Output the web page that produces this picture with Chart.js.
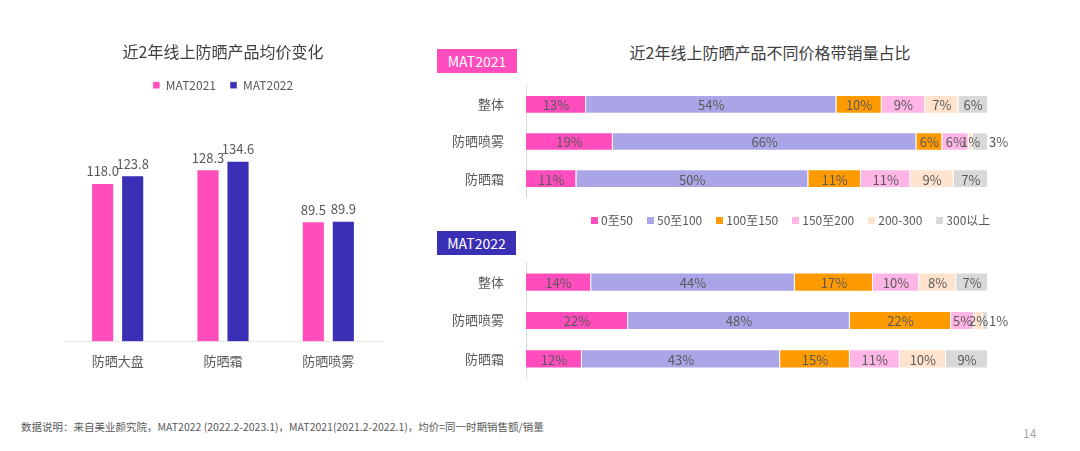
<!DOCTYPE html>
<html>
<head>
<meta charset="utf-8">
<script src="https://cdn.jsdelivr.net/npm/chart.js@4"></script>
<style>
    body { margin:0; background:#fff; font-family:"Noto Sans CJK SC","Noto Sans",sans-serif; }
    #page { position:relative; width:1080px; height:451px; overflow:hidden; background:#fff; }
    .box { position:absolute; }
    .badge { position:absolute; color:#fff; font-size:14px; text-align:center; line-height:24px; }
    #title2 { position:absolute; left:560px; top:40px; width:420px; text-align:center; font-size:16px; color:#404040; }
    #legend2 { position:absolute; left:591px; top:211px; font-size:12px; color:#595959; white-space:nowrap; }
    #legend2 span { display:inline-block; margin-right:14px; }
    #legend2 i { display:inline-block; width:7px; height:7px; margin-right:3px; vertical-align:1px; }
    #note { position:absolute; left:21px; top:419px; font-size:10.5px; color:#595959; }
    #pageNo { position:absolute; left:1023px; top:424px; font-size:12px; color:#a6a6a6; }
</style>
</head>
<body>
<div id="page">
    <div class="box" style="left:45px; top:30px; width:355px; height:360px;"><canvas id="avgChart"></canvas></div>

    <div id="title2">近2年线上防晒产品不同价格带销量占比</div>
    <div class="box" style="left:420px; top:64px; width:588px; height:155px;"><canvas id="shareChart2021"></canvas></div>
    <div class="box" style="left:420px; top:241px; width:588px; height:159px;"><canvas id="shareChart2022"></canvas></div>
    <div class="badge" style="left:437px; top:49px; width:80px; height:24px; background:#ff4dbd;">MAT2021</div>
    <div class="badge" style="left:437px; top:231px; width:79px; height:24px; background:#3b2fb5;">MAT2022</div>
    <div id="legend2"></div>

    <div id="note">数据说明：来自美业颜究院，MAT2022 (2022.2-2023.1)，MAT2021(2021.2-2022.1)，均价=同一时期销售额/销量</div>
    <div id="pageNo">14</div>
</div>

<script>
// DATA
const productCats = ["防晒大盘", "防晒霜", "防晒喷雾"];
const avg2021 = [118.0, 128.3, 89.5];
const avg2022 = [123.8, 134.6, 89.9];

const rowLabels = ["整体", "防晒喷雾", "防晒霜"];
const priceBands = ["0至50", "50至100", "100至150", "150至200", "200-300", "300以上"];
const bandColors = ["#ff4dbd", "#aaa5e6", "#ff9a00", "#ffb5e6", "#ffe3cc", "#d9d9d9"];

// share per row (整体, 防晒喷雾, 防晒霜), in price band order
const share2021 = [
    [13.0, 54.2, 9.8, 9.4, 7.2, 6.4],
    [18.8, 65.7, 5.6, 5.7, 0.9, 3.3],
    [10.9, 50.2, 11.4, 10.7, 9.4, 7.4]
];
const share2022 = [
    [14.1, 44.1, 16.9, 10.0, 8.0, 6.9],
    [22.1, 48.0, 21.9, 5.0, 1.9, 1.1],
    [12.1, 42.9, 15.1, 10.8, 10.0, 9.1]
];

const FONT = "'Noto Sans CJK SC', 'Noto Sans', sans-serif";
const TEXT = "#595959";

// value labels above the bars
const topLabels = {
    id: "topLabels",
    afterDatasetsDraw(chart) {
        let ctx = chart.ctx;
        ctx.save();
        ctx.font = "13px " + FONT;
        ctx.fillStyle = TEXT;
        ctx.textAlign = "center";
        ctx.textBaseline = "bottom";
        chart.data.datasets.forEach((ds, i) => {
            chart.getDatasetMeta(i).data.forEach((bar, j) => {
                ctx.fillText(ds.data[j].toFixed(1), bar.x, bar.y - 5);
            });
        });
        ctx.restore();
    }
};

// percent labels inside stacked segments
const segLabels = {
    id: "segLabels",
    afterDatasetsDraw(chart) {
        let ctx = chart.ctx;
        let last = chart.data.datasets.length - 1;
        ctx.save();
        ctx.font = "13px " + FONT;
        ctx.fillStyle = TEXT;
        ctx.textBaseline = "middle";
        chart.data.datasets.forEach((ds, i) => {
            chart.getDatasetMeta(i).data.forEach((bar, j) => {
                let v = ds.data[j];
                let text = Math.round(v) + "%";
                if (i === last && v < 5) {
                    // tiny last segment: label goes after the bar end
                    ctx.textAlign = "left";
                    ctx.fillText(text, bar.x + 1, bar.y + 1);
                } else {
                    ctx.textAlign = "center";
                    ctx.fillText(text, (bar.x + bar.base) / 2, bar.y + 1);
                }
            });
        });
        ctx.restore();
    }
};

// LEFT: average price
new Chart(document.getElementById("avgChart"), {
    type: "bar",
    data: {
        labels: productCats,
        datasets: [
            { label: "MAT2021", data: avg2021, backgroundColor: "#ff4dbd", borderColor: "rgba(255,255,255,0.5)", borderWidth: 1 },
            { label: "MAT2022", data: avg2022, backgroundColor: "#3b2fb5", borderColor: "rgba(255,255,255,0.5)", borderWidth: 1 }
        ]
    },
    options: {
        responsive: true,
        maintainAspectRatio: false,
        animation: false,
        layout: { padding: { left: 20, right: 19, bottom: 17 } },
        datasets: { bar: { categoryPercentage: 0.57, barPercentage: 0.77 } },
        plugins: {
            title: {
                display: true,
                text: "近2年线上防晒产品均价变化",
                color: "#404040",
                font: { family: FONT, size: 16, weight: "normal" },
                padding: { top: 12, bottom: 4 }
            },
            legend: {
                labels: {
                    color: TEXT,
                    boxWidth: 7,
                    boxHeight: 7,
                    padding: 14,
                    font: { family: FONT, size: 12 }
                }
            },
            tooltip: { enabled: false }
        },
        scales: {
            x: {
                grid: { display: false },
                border: { color: "#e6e6e6" },
                ticks: { color: TEXT, padding: 4, font: { family: FONT, size: 13 } }
            },
            y: { display: false, min: 0, max: 179 }
        }
    },
    plugins: [topLabels]
});

// RIGHT: price band share
function shareChart(id, rows) {
    return new Chart(document.getElementById(id), {
        type: "bar",
        data: {
            labels: rowLabels,
            datasets: priceBands.map((b, i) => ({
                label: b,
                data: rows.map(r => r[i]),
                backgroundColor: bandColors[i],
                borderColor: "rgba(255,255,255,0.6)",
                borderWidth: 1
            }))
        },
        options: {
            indexAxis: "y",
            responsive: true,
            maintainAspectRatio: false,
            animation: false,
            layout: { padding: { top: 10, bottom: 10, right: 20 } },
            datasets: { bar: { categoryPercentage: 1, barPercentage: 0.5 } },
            plugins: { legend: { display: false }, tooltip: { enabled: false } },
            scales: {
                x: { display: false, stacked: true, min: 0, max: 100 },
                y: {
                    stacked: true,
                    grid: { display: false },
                    border: { color: "#d9d9d9" },
                    ticks: { color: TEXT, padding: 14, font: { family: FONT, size: 13 } },
                    afterFit: s => { s.width = 106; }
                }
            }
        },
        plugins: [segLabels]
    });
}

shareChart("shareChart2021", share2021);
shareChart("shareChart2022", share2022);

// shared legend for the two share charts
document.getElementById("legend2").innerHTML = priceBands
    .map((b, i) => `<span><i style="background:${bandColors[i]}"></i>${b}</span>`)
    .join("");
</script>
</body>
</html>
